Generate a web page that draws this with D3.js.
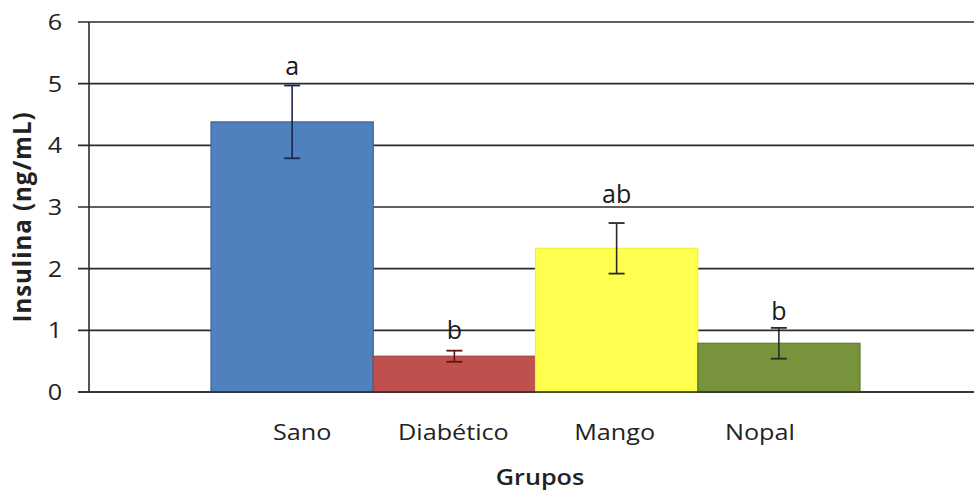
<!DOCTYPE html>
<html>
<head>
<meta charset="utf-8">
<script src="https://cdn.jsdelivr.net/npm/d3@7"></script>
<style>
  html, body { margin: 0; padding: 0; background: #fff; }
  svg { display: block; }
</style>
</head>
<body>
<svg id="chart" width="974" height="491"></svg>
<script>
// Insulin level per group, with standard error and significance letters
const groups = ["Sano", "Diabético", "Mango", "Nopal"];
const insulina = [4.38, 0.58, 2.33, 0.79];
const errores = [0.59, 0.09, 0.41, 0.25];
const letras = ["a", "b", "ab", "b"];
const yTicks = [0, 1, 2, 3, 4, 5, 6];

// Appearance
const fills = ["#4f81bd", "#c0504d", "#ffff50", "#77933c"];
const strokes = ["#3b6596", "#a33f3c", "#f0f040", "#5f7a2e"];
const errColors = ["#1c2450", "#5a1515", "#2a2a2a", "#2a2a2a"];
const labelNudge = [10, -1, -2, -19];
const letterGap = [11, 12, 20, 8];

const svg = d3.select("#chart");
const font = "'Open Sans', Lato, sans-serif";
const stretch = 1.2; // horizontal widening of the text glyphs

const plotLeft = 89, plotRight = 974, plotTop = 22, plotBottom = 392;

const y = d3.scaleLinear().domain([0, 6]).range([plotBottom, plotTop]);
const x = d3.scaleBand().domain(groups).range([211, 860]).paddingInner(0).paddingOuter(0);

// Gridlines with outer tick marks
svg.append("g")
  .selectAll("line")
  .data(yTicks)
  .join("line")
  .attr("x1", plotLeft - 11)
  .attr("x2", plotRight)
  .attr("y1", d => y(d))
  .attr("y2", d => y(d))
  .attr("stroke", "#2b2b2b")
  .attr("stroke-width", 1.6);

// Y axis tick labels
const yAxis = d3.axisLeft(y).tickValues(yTicks).tickSize(0).tickFormat(d3.format("d"));
const gy = svg.append("g").attr("transform", `translate(${plotLeft},0)`).call(yAxis);
gy.select(".domain").remove();
gy.selectAll(".tick text")
  .attr("x", 0)
  .attr("dy", "0.36em")
  .attr("text-anchor", "middle")
  .attr("transform", `translate(-34,0) scale(${stretch},1)`)
  .attr("font-family", font).attr("font-size", 21).attr("fill", "#222");
svg.append("line")
  .attr("x1", plotLeft).attr("x2", plotLeft)
  .attr("y1", y(6)).attr("y2", y(0))
  .attr("stroke", "#2b2b2b").attr("stroke-width", 1.6);

// Bars
svg.append("g")
  .selectAll("rect")
  .data(groups)
  .join("rect")
  .attr("x", d => x(d))
  .attr("width", x.bandwidth())
  .attr("y", (d, i) => y(insulina[i]))
  .attr("height", (d, i) => y(0) - y(insulina[i]))
  .attr("fill", (d, i) => fills[i])
  .attr("stroke", (d, i) => strokes[i])
  .attr("stroke-width", 1.2);

// Baseline over bars
svg.append("line")
  .attr("x1", plotLeft - 11).attr("x2", plotRight)
  .attr("y1", y(0)).attr("y2", y(0))
  .attr("stroke", "#2b2b2b").attr("stroke-width", 1.6);

// Error bars
const eg = svg.append("g");
groups.forEach((g, i) => {
  const cx = x(g) + x.bandwidth() / 2;
  const hi = y(insulina[i] + errores[i]);
  const lo = y(insulina[i] - errores[i]);
  const c = errColors[i];
  eg.append("line").attr("x1", cx).attr("x2", cx).attr("y1", hi).attr("y2", lo)
    .attr("stroke", c).attr("stroke-width", 1.6);
  [hi, lo].forEach(v => {
    eg.append("line").attr("x1", cx - 8).attr("x2", cx + 8).attr("y1", v).attr("y2", v)
      .attr("stroke", c).attr("stroke-width", 1.8);
  });
});

// Significance letters
svg.append("g")
  .selectAll("text")
  .data(groups)
  .join("text")
  .attr("x", d => x(d) + x.bandwidth() / 2)
  .attr("y", (d, i) => y(insulina[i] + errores[i]) - letterGap[i])
  .attr("text-anchor", "middle")
  .attr("font-family", font)
  .attr("font-size", 25)
  .attr("fill", "#1a1a1a")
  .text((d, i) => letras[i]);

// Category labels
svg.append("g")
  .selectAll("text")
  .data(groups)
  .join("text")
  .attr("transform", (d, i) => `translate(${x(d) + x.bandwidth() / 2 + labelNudge[i]},440) scale(${stretch},1)`)
  .attr("text-anchor", "middle")
  .attr("font-family", font)
  .attr("font-size", 21)
  .attr("fill", "#222")
  .text(d => d);

// Axis titles
svg.append("text")
  .attr("transform", `translate(540,485) scale(${stretch},1)`)
  .attr("text-anchor", "middle")
  .attr("font-family", font)
  .attr("font-size", 21)
  .attr("font-weight", 600)
  .attr("fill", "#222")
  .text("Grupos");

svg.append("text")
  .attr("transform", `translate(31,217) scale(1.05,1) rotate(-90)`)
  .attr("text-anchor", "middle")
  .attr("font-family", font)
  .attr("font-size", 24)
  .attr("font-weight", 700)
  .attr("letter-spacing", 1)
  .attr("fill", "#222")
  .text("Insulina  (ng/mL)");
</script>
</body>
</html>
